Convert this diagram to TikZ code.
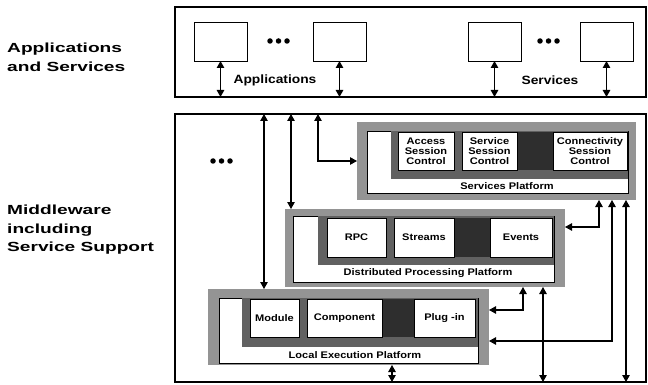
\documentclass[tikz,border=0pt]{standalone}
\usepackage{fontspec}
\setmainfont{Liberation Sans}
\newfontfamily\sidefont{Liberation Sans}[FakeStretch=1.45]
\newfontfamily\boxfont{Liberation Sans}[FakeStretch=1.15]
\usetikzlibrary{arrows.meta}
\tikzset{
  frame/.style={draw, line width=1.3pt, inner sep=0pt, outer sep=0pt, anchor=north west},
  shadowbox/.style={fill=black!42, inner sep=0pt, outer sep=0pt, anchor=north west},
  platbox/.style={draw, fill=white, line width=0.8pt, inner sep=0pt, outer sep=0pt, anchor=north west},
  corebox/.style={fill=black!62, inner sep=0pt, outer sep=0pt, anchor=north west},
  patchbox/.style={fill=black!82, inner sep=0pt, outer sep=0pt, anchor=north west},
  cell/.style={draw, fill=white, line width=0.8pt, inner sep=0pt, outer sep=0pt, anchor=north west},
  comp/.style={cell, align=center, font=\boxfont\bfseries\fontsize{9.6}{10}\selectfont},
  platlabel/.style={font=\boxfont\bfseries\fontsize{9.6}{11}\selectfont, inner sep=0pt},
  toplabel/.style={font=\boxfont\bfseries\fontsize{12}{14}\selectfont, inner sep=0pt},
  sidelabel/.style={font=\sidefont\bfseries\fontsize{13.2}{18.5}\selectfont, align=left, anchor=west, inner sep=0pt},
  dotmark/.style={circle, fill=black, inner sep=0pt, minimum size=5.5pt},
  conn/.style={line width=1.1pt, {Triangle[width=7.5pt,length=7pt]}-{Triangle[width=7.5pt,length=7pt]}},
}
\begin{document}
\begin{tikzpicture}[x=1pt, y=-1pt]
\useasboundingbox (0,0) rectangle (648,385);

% side labels
\node[sidelabel] (labA) at (7,57.5) {Applications\\and Services};
\node[sidelabel] (labM) at (7,230) {Middleware\\including\\Service Support};

% frames
\node[frame, minimum width=471pt, minimum height=90pt] (appbox) at (175,7) {};
\node[frame, minimum width=471pt, minimum height=268pt] (midbox) at (175,114) {};

% application / service boxes
\node[cell, minimum width=53pt, minimum height=39pt] (a1) at (194,22) {};
\node[cell, minimum width=53pt, minimum height=39pt] (a2) at (313,22) {};
\node[cell, minimum width=53pt, minimum height=39pt] (s1) at (468,22) {};
\node[cell, minimum width=53pt, minimum height=39pt] (s2) at (580,22) {};
\foreach \i/\x in {1/270,2/278.5,3/287} \node[dotmark] (da\i) at (\x,41) {};
\foreach \i/\x in {1/540,2/548.5,3/557} \node[dotmark] (ds\i) at (\x,41) {};
\foreach \i/\x in {1/213,2/221.5,3/230} \node[dotmark] (dm\i) at (\x,161) {};
\node[toplabel] (appl) at (275,80) {Applications};
\node[toplabel] (serv) at (550,80) {Services};

% Services Platform
\node[shadowbox, minimum width=279pt, minimum height=78pt] (spS) at (357,122) {};
\node[platbox, minimum width=261pt, minimum height=62pt] (spW) at (367,131) {};
\node[corebox, minimum width=237pt, minimum height=48pt] (spC) at (391,131) {};
\node[patchbox, minimum width=36pt, minimum height=38pt] (spP) at (517,132) {};
\node[comp, minimum width=56pt, minimum height=38pt] (asc) at (398,132) {Access\\Session\\Control};
\node[comp, minimum width=55pt, minimum height=38pt] (ssc) at (462,132) {Service\\Session\\Control};
\node[comp, minimum width=74pt, minimum height=38pt] (csc) at (553,132) {Connectivity\\Session\\Control};
\node[platlabel] (spL) at (507,186) {Services Platform};

% Distributed Processing Platform
\node[shadowbox, minimum width=280pt, minimum height=78pt] (dppS) at (285,209) {};
\node[platbox, minimum width=261pt, minimum height=66pt] (dppW) at (293,216) {};
\node[corebox, minimum width=236pt, minimum height=49pt] (dppC) at (318,216) {};
\node[patchbox, minimum width=36pt, minimum height=39pt] (dppP) at (454,218) {};
\node[comp, minimum width=59pt, minimum height=39pt] (rpc) at (327,218) {RPC};
\node[comp, minimum width=60pt, minimum height=39pt] (str) at (394,218) {Streams};
\node[comp, minimum width=62pt, minimum height=39pt] (evt) at (490,218) {Events};
\node[platlabel] (dppL) at (428,273.5) {Distributed Processing Platform};

% Local Execution Platform
\node[shadowbox, minimum width=281pt, minimum height=76pt] (lepS) at (208,289) {};
\node[platbox, minimum width=259pt, minimum height=65pt] (lepW) at (219,298) {};
\node[corebox, minimum width=236pt, minimum height=49pt] (lepC) at (242,298) {};
\node[patchbox, minimum width=32pt, minimum height=38pt] (lepP) at (382,299) {};
\node[comp, minimum width=49pt, minimum height=38pt] (mod) at (250,299) {Module};
\node[comp, minimum width=75pt, minimum height=38pt] (cmp) at (307,299) {Component};
\node[comp, minimum width=61pt, minimum height=38pt] (plg) at (414,299) {Plug -in};
\node[platlabel] (lepL) at (355,355) {Local Execution Platform};

% connectors: applications & services
\draw[conn] (a1.south) -- (a1.south |- appbox.south);
\draw[conn] (a2.south) -- (a2.south |- appbox.south);
\draw[conn] (s1.south) -- (s1.south |- appbox.south);
\draw[conn] (s2.south) -- (s2.south |- appbox.south);

% connectors: from middleware top
\coordinate (t1) at (264,114);
\coordinate (t2) at (291,114);
\coordinate (t3) at (318,114);
\draw[conn] (t1) -- (t1 |- lepS.north);
\draw[conn] (t2) -- (t2 |- dppS.north);
\draw[conn] (t3) |- (spS.west);

% connectors: right side
\coordinate (r1) at (599,227);
\coordinate (r2) at (612,341);
\coordinate (r3) at (626,0);
\coordinate (r4) at (523,310);
\coordinate (r5) at (543,0);
\coordinate (r6) at (392,0);
\draw[conn] (spS.south -| r1) |- (dppS.east |- r1);
\draw[conn] (spS.south -| r2) |- (lepS.east |- r2);
\draw[conn] (spS.south -| r3) -- (midbox.south -| r3);
\draw[conn] (dppS.south -| r4) |- (lepS.east |- r4);
\draw[conn] (dppS.south -| r5) -- (midbox.south -| r5);
\draw[conn] (lepS.south -| r6) -- (midbox.south -| r6);
\end{tikzpicture}
\end{document}
